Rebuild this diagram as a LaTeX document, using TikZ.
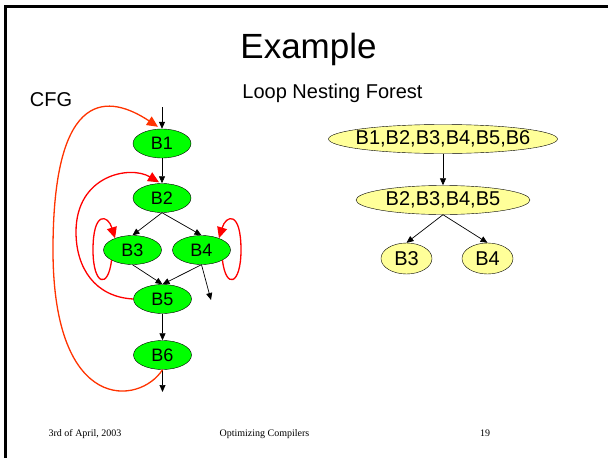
\documentclass[tikz,border=0pt]{standalone}
\usepackage{fontspec}
\setmainfont{Liberation Sans}
\newfontfamily\footfont{Liberation Serif}
\usetikzlibrary{shapes.geometric,arrows.meta}
\definecolor{blockgreen}{RGB}{0,255,0}
\definecolor{setyellow}{RGB}{255,255,153}
\definecolor{backred}{RGB}{255,0,0}
\definecolor{outerred}{RGB}{255,51,0}

\begin{document}
\begin{tikzpicture}[x=1pt, y=-1pt,
    block/.style={ellipse, draw, fill=blockgreen, minimum width=58pt, minimum height=29pt, inner sep=0pt, font=\fontsize{18}{20}\selectfont},
    loopset/.style={ellipse, draw, fill=setyellow, minimum height=29pt, inner xsep=-10pt, inner ysep=0pt, font=\fontsize{20}{22}\selectfont},
    flow/.style={-{Triangle[length=7pt,width=6pt]}, line width=0.7pt},
    back/.style={-{Triangle[length=11pt,width=10pt]}, line width=1.3pt, draw=backred}]
  \useasboundingbox (0,0) rectangle (608,458);

  % slide frame and title
  \draw[line width=2.5pt] (5.5,458) -- (5.5,6.5) -- (608,6.5);
  \node[anchor=base, font=\fontsize{35}{40}\selectfont] (title) at (308.5,58) {Example};
  \node[anchor=base, font=\fontsize{20}{22}\selectfont] (cfglabel) at (51,106) {CFG};
  \node[anchor=base, font=\fontsize{20}{22}\selectfont] (forestlabel) at (332.5,98) {Loop Nesting Forest};

  % control flow graph
  \node[block] (B1) at (162,143.5) {B1};
  \node[block] (B2) at (162,198) {B2};
  \node[block] (B3) at (132.5,250) {B3};
  \node[block] (B4) at (201.5,250) {B4};
  \node[block] (B5) at (162.5,299) {B5};
  \node[block] (B6) at (162.5,355) {B6};
  \coordinate (entry) at (162,107);
  \coordinate (exitB6) at (162.5,392);
  \coordinate (exitB4) at (211,300);

  \draw[flow] (entry) -- (B1.north);
  \draw[flow] (B1) -- (B2);
  \draw[flow] (B2.south) -- (B3.north);
  \draw[flow] (B2.south) -- (B4.north);
  \draw[flow] (B3.south) -- (B5.north);
  \draw[flow] (B4.south) -- (B5.north);
  \draw[flow] (B4.south) -- (exitB4);
  \draw[flow] (B5) -- (B6);
  \draw[flow] (B6.south) -- (exitB6);

  % back edges
  \draw[back, draw=outerred] (B6.south) .. controls (140,405) and (53,415) .. (53,250)
    .. controls (53,85) and (110,95) .. ([shift={(-4pt,2pt)}]B1.north);
  \draw[back] (B5.west) .. controls (95,297) and (76,268) .. (76,232)
    .. controls (76,175) and (130,165) .. ([shift={(-3pt,1pt)}]B2.north);
  \draw[back] (B3.206) .. controls (108,290) and (93,285) .. (93,250)
    .. controls (93,210) and (108,215) .. (B3.146);
  \draw[back] (B4.334) .. controls (226,290) and (241,285) .. (241,250)
    .. controls (241,210) and (226,215) .. (B4.34);

  % loop nesting forest
  \node[loopset, minimum width=229pt] (L0) at (443,139) {B1,B2,B3,B4,B5,B6};
  \node[loopset, minimum width=174pt] (L1) at (443,200) {B2,B3,B4,B5};
  \node[loopset, minimum width=51pt, minimum height=31pt] (L3) at (406.5,258.5) {B3};
  \node[loopset, minimum width=51pt, minimum height=31pt] (L4) at (487.5,258.5) {B4};
  \draw[flow] (L0) -- (L1);
  \draw[flow] (L1.south) -- (L3.north);
  \draw[flow] (L1.south) -- (L4.north);

  % footer
  \node[anchor=base, font=\footfont\fontsize{10}{12}\selectfont] (date) at (85,436) {3rd of April, 2003};
  \node[anchor=base, font=\footfont\fontsize{10}{12}\selectfont] (course) at (264.5,436) {Optimizing Compilers};
  \node[anchor=base, font=\footfont\fontsize{10}{12}\selectfont] (page) at (485,436) {19};
\end{tikzpicture}
\end{document}
